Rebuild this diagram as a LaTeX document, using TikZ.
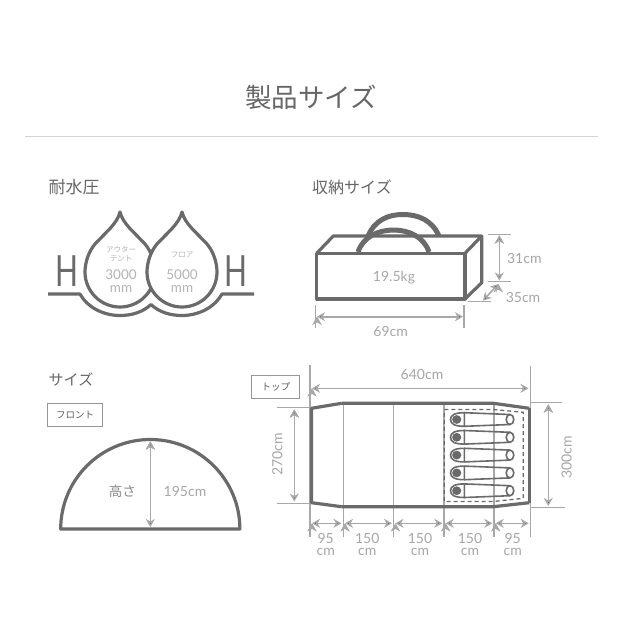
\documentclass[tikz,border=0pt]{standalone}
\usepackage{fontspec}
\setmainfont{Lato}
\newfontfamily\cjk{Noto Sans CJK JP}
\usetikzlibrary{shapes,arrows.meta}
\definecolor{tentline}{HTML}{6A6A6A}
\definecolor{dimline}{HTML}{A8A8A8}
\definecolor{headtext}{HTML}{666666}
\definecolor{dimtext}{HTML}{A6A6A6}
\definecolor{droptext}{HTML}{B4B4B4}
\tikzset{
  outline/.style={draw=tentline,line width=3.2pt,line join=round},
  thin outline/.style={draw=tentline,line width=1.6pt},
  tick/.style={draw=dimline,line width=1.1pt},
  dimarrow/.style={{Stealth[length=8pt,width=9pt,inset=2.5pt]}-{Stealth[length=8pt,width=9pt,inset=2.5pt]},draw=dimline,line width=1.6pt},
  heading/.style={align=center,inner sep=0pt,text=headtext,font=\cjk\fontsize{17}{17}\selectfont},
  tag/.style={shape=rectangle,draw=tentline!70,line width=0.8pt,align=center,inner sep=0pt,text=black!65,font=\cjk\fontsize{9.5}{10}\selectfont},
  dimtag/.style={align=center,inner sep=0pt,text=dimtext,font=\fontsize{14}{12.5}\selectfont},
  droptag/.style={align=center,inner sep=0pt,text=droptext,font=\fontsize{13.5}{12.5}\selectfont},
  dropkana/.style={align=center,inner sep=0pt,text=droptext,font=\cjk\fontsize{7.5}{9}\selectfont},
  bigH/.style={inner sep=0pt,xscale=0.7,text=tentline,font=\fontsize{43}{43}\selectfont},
}
\begin{document}
\begin{tikzpicture}[x=1pt,y=-1pt]
\useasboundingbox (0,0) rectangle (640,640);

\node[heading,font=\cjk\fontsize{26.5}{26.5}\selectfont] (title) at (311,97) {製品サイズ};
\draw[draw=black!17,line width=1pt] (25,136.5) -- (598,136.5);

% water pressure
\node[heading] (water) at (74,187) {耐水圧};
\draw[outline] (48,294) -- (80,294) .. controls (87,307) and (103,315.5) .. (120,315.5) .. controls (132,315.5) and (143,312) .. (151,304.5) .. controls (159,312) and (170,315.5) .. (182,315.5) .. controls (199,315.5) and (215,307) .. (222,294) -- (254,294);
\draw[outline,fill=white] (120,212) .. controls (117,224) and (106,232) .. (95,244) .. controls (89,251) and (85,262) .. (85,272) .. controls (85,291.3) and (100.7,307) .. (120,307) .. controls (139.3,307) and (155,291.3) .. (155,272) .. controls (155,262) and (151,251) .. (145,244) .. controls (134,232) and (123,224) .. (120,212) -- cycle;
\draw[outline,fill=white] (182,212) .. controls (179,224) and (168,232) .. (157,244) .. controls (151,251) and (147,262) .. (147,272) .. controls (147,291.3) and (162.7,307) .. (182,307) .. controls (201.3,307) and (217,291.3) .. (217,272) .. controls (217,262) and (213,251) .. (207,244) .. controls (196,232) and (185,224) .. (182,212) -- cycle;
\node[bigH] (hleft) at (66.7,271.5) {H};
\node[bigH] (hright) at (235.7,271.5) {H};
\node[dropkana] (outer) at (121,254.5) {アウター\\テント};
\node[dropkana] (floor) at (182,255) {フロア};
\node[droptag] (outerval) at (121,281) {3000\\mm};
\node[droptag] (floorval) at (182,281) {5000\\mm};

% storage size
\node[heading,font=\cjk\fontsize{16}{16}\selectfont] (storage) at (352,187) {収納サイズ};
\draw[outline,line width=5pt] (368,236) .. controls (375,220) and (388,214.5) .. (403,214.5) .. controls (418,214.5) and (432,220) .. (439,236);
\draw[outline] (316.7,253.3) -- (333.3,236) -- (481.7,236) -- (465,253.3);
\draw[outline] (481.7,236) -- (481.7,282.7) -- (465,299);
\draw[outline,line width=5pt] (358,252) .. controls (363,237) and (378,230) .. (393.5,230) .. controls (409,230) and (424,237) .. (429,252);
\draw[outline] (316.7,253.3) rectangle (465,299);
\node[dimtag] (weight) at (394,277.3) {19.5kg};

\draw[tick] (488,234.3) -- (511,234.3);
\draw[tick] (488,281.7) -- (511,281.7);
\draw[tick] (468.3,301.7) -- (490.7,301.7);
\draw[tick] (315.7,305) -- (315.7,328);
\draw[tick] (464,305) -- (464,328);
\coordinate (s0) at (499.3,235.5);
\coordinate (s1) at (499.3,280.5);
\coordinate (s2) at (498.3,284);
\coordinate (s3) at (483,300.7);
\coordinate (s4) at (317,316.7);
\coordinate (s5) at (463,316.7);
\path [dimarrow] (s0) edge (s1);
\path [dimarrow] (s2) edge (s3);
\path [dimarrow] (s4) edge (s5);
\node[dimtag] (high) at (524.3,258) {31cm};
\node[dimtag] (deep) at (523,297) {35cm};
\node[dimtag] (wide) at (390.7,331) {69cm};

% front view
\node[heading,font=\cjk\fontsize{15}{15}\selectfont] (size) at (71,379) {サイズ};
\node[tag,minimum width=55pt,minimum height=23pt] (front) at (75,415) {フロント};
\draw[outline] (60.7,529) .. controls (60.7,479.6) and (100.9,439.5) .. (150.3,439.5) .. controls (199.7,439.5) and (239.9,479.6) .. (239.9,529) -- cycle;
\coordinate (f0) at (150.3,441.5);
\coordinate (f1) at (150.3,527);
\path [dimarrow] (f0) edge (f1);
\node[heading,text=tentline!80,font=\cjk\fontsize{13.5}{13.5}\selectfont] (height) at (122.3,491) {高さ};
\node[dimtag] (heightval) at (185,491) {195cm};

% top view
\node[tag,minimum width=48pt,minimum height=23pt] (top) at (275.8,386.7) {トップ};
\draw[tick] (310,365) -- (310,536.7);
\draw[tick] (343.3,403.3) -- (343.3,536.7);
\draw[tick] (393.7,403.3) -- (393.7,536.7);
\draw[tick] (444,403.3) -- (444,536.7);
\draw[tick] (494,403.3) -- (494,536.7);
\draw[tick] (530.3,366) -- (530.3,536.7);
\draw[tick] (277,407.7) -- (310,407.7);
\draw[tick] (277,503.3) -- (310,503.3);
\draw[tick] (530,402.7) -- (561.7,402.7);
\draw[tick] (530,507.7) -- (565,507.7);
\draw[outline] (341.7,403.3) -- (493.3,403.3) -- (529.3,408.3);
\draw[outline] (341.7,506.7) -- (493.3,506.7) -- (529.3,502.7);
\draw[outline] (341.7,403.3) -- (311.5,408.3) -- (311.5,502.7) -- (341.7,506.7);
\draw[outline] (529.3,408.3) -- (529.3,502.7);

\draw[draw=tentline,line width=1.3pt,dashed,dash pattern=on 4pt off 3pt] (444.3,409.5) -- (493.3,409.5) -- (523.3,412.3) -- (523.3,498.3) -- (493.3,501.5) -- (444.3,501.5) -- cycle;

\draw[thin outline] (464.3,412.7) .. controls (455,412.7) and (450.5,415) .. (450.5,419.5) .. controls (450.5,424) and (455,426.3) .. (464.3,426.3) -- cycle;
\draw[thin outline] (464.3,412.7) -- (510,414.5);
\draw[thin outline] (464.3,426.3) -- (510,424.5);
\draw[thin outline,fill=white] (510,419.5) ellipse (3.8 and 5);
\fill[tentline] (456.7,419.5) ellipse (4.6 and 4.4);

\draw[thin outline] (464.3,430.5) .. controls (455,430.5) and (450.5,432.8) .. (450.5,437.3) .. controls (450.5,441.8) and (455,444.1) .. (464.3,444.1) -- cycle;
\draw[thin outline] (464.3,430.5) -- (510,432.3);
\draw[thin outline] (464.3,444.1) -- (510,442.3);
\draw[thin outline,fill=white] (510,437.3) ellipse (3.8 and 5);
\fill[tentline] (456.7,437.3) ellipse (4.6 and 4.4);

\draw[thin outline] (464.3,448.3) .. controls (455,448.3) and (450.5,450.6) .. (450.5,455.1) .. controls (450.5,459.6) and (455,461.9) .. (464.3,461.9) -- cycle;
\draw[thin outline] (464.3,448.3) -- (510,450.1);
\draw[thin outline] (464.3,461.9) -- (510,460.1);
\draw[thin outline,fill=white] (510,455.1) ellipse (3.8 and 5);
\fill[tentline] (456.7,455.1) ellipse (4.6 and 4.4);

\draw[thin outline] (464.3,466.1) .. controls (455,466.1) and (450.5,468.4) .. (450.5,472.9) .. controls (450.5,477.4) and (455,479.7) .. (464.3,479.7) -- cycle;
\draw[thin outline] (464.3,466.1) -- (510,467.9);
\draw[thin outline] (464.3,479.7) -- (510,477.9);
\draw[thin outline,fill=white] (510,472.9) ellipse (3.8 and 5);
\fill[tentline] (456.7,472.9) ellipse (4.6 and 4.4);

\draw[thin outline] (464.3,483.9) .. controls (455,483.9) and (450.5,486.2) .. (450.5,490.7) .. controls (450.5,495.2) and (455,497.5) .. (464.3,497.5) -- cycle;
\draw[thin outline] (464.3,483.9) -- (510,485.7);
\draw[thin outline] (464.3,497.5) -- (510,495.7);
\draw[thin outline,fill=white] (510,490.7) ellipse (3.8 and 5);
\fill[tentline] (456.7,490.7) ellipse (4.6 and 4.4);

\coordinate (t0) at (312,388.3);
\coordinate (t1) at (528.5,388.3);
\coordinate (t2) at (294.3,409.5);
\coordinate (t3) at (294.3,501.5);
\coordinate (t4) at (548.3,404.5);
\coordinate (t5) at (548.3,506);
\path [dimarrow] (t0) edge (t1);
\path [dimarrow] (t2) edge (t3);
\path [dimarrow] (t4) edge (t5);
\node[dimtag] (length) at (422,374) {640cm};
\node[dimtag,rotate=90] (inner) at (277.3,454.3) {270cm};
\node[dimtag,rotate=90] (outer width) at (566.7,457.3) {300cm};

\coordinate (b0) at (312,523.3);
\coordinate (b1) at (341.5,523.3);
\coordinate (b2) at (345,523.3);
\coordinate (b3) at (392,523.3);
\coordinate (b4) at (395.5,523.3);
\coordinate (b5) at (442.3,523.3);
\coordinate (b6) at (445.7,523.3);
\coordinate (b7) at (492.3,523.3);
\coordinate (b8) at (495.7,523.3);
\coordinate (b9) at (528.7,523.3);
\path [dimarrow] (b0) edge (b1);
\path [dimarrow] (b2) edge (b3);
\path [dimarrow] (b4) edge (b5);
\path [dimarrow] (b6) edge (b7);
\path [dimarrow] (b8) edge (b9);
\node[dimtag] (part0) at (325.7,544.5) {95\\cm};
\node[dimtag] (part1) at (367.3,544.5) {150\\cm};
\node[dimtag] (part2) at (420,544.5) {150\\cm};
\node[dimtag] (part3) at (470,544.5) {150\\cm};
\node[dimtag] (part4) at (512.7,544.5) {95\\cm};
\end{tikzpicture}
\end{document}
